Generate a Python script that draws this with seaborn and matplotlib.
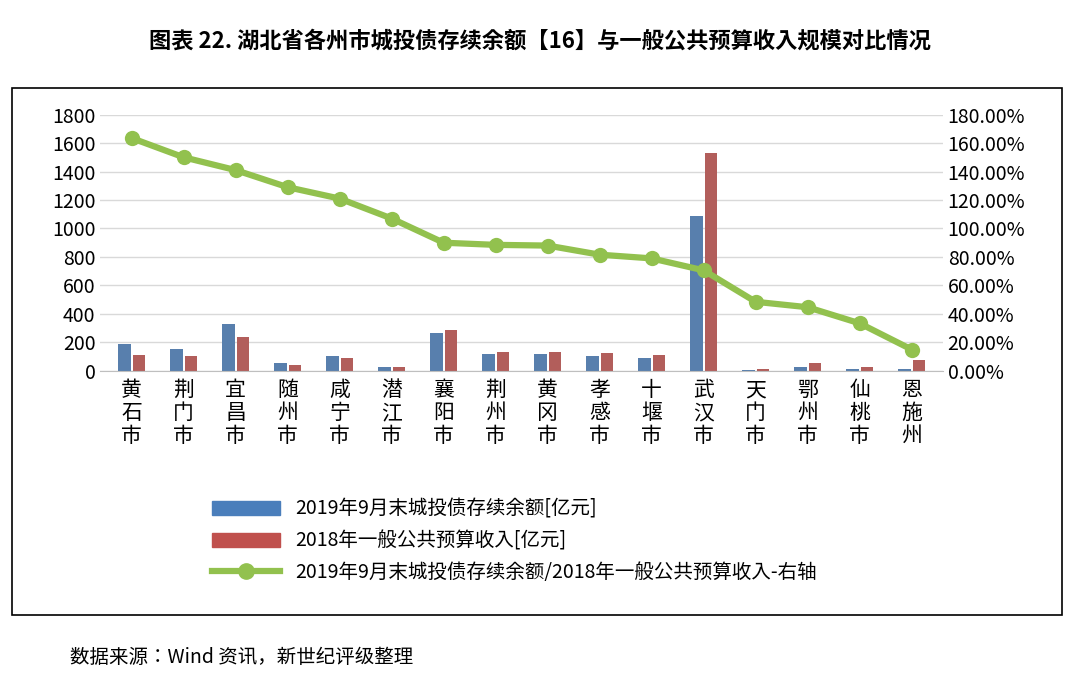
import matplotlib
matplotlib.use("Agg")
import matplotlib.pyplot as plt
from matplotlib import font_manager as fm
import seaborn as sns
import numpy as np
import pandas as pd
from matplotlib.ticker import FuncFormatter
from matplotlib.patches import Rectangle
from matplotlib.lines import Line2D

cjk = [f.name for f in fm.fontManager.ttflist if "CJK" in f.name]
pref = [n for n in ["Noto Sans CJK SC", "Noto Sans CJK JP", "Noto Sans CJK TC", "Noto Sans CJK KR"] if n in cjk] or cjk
plt.rcParams["font.family"] = "sans-serif"
plt.rcParams["font.sans-serif"] = pref[:1] + ["DejaVu Sans"]

cities = ["黄石市","荆门市","宜昌市","随州市","咸宁市","潜江市","襄阳市","荆州市","黄冈市","孝感市","十堰市","武汉市","天门市","鄂州市","仙桃市","恩施州"]
debt = [188,153,329,56,104,24,266,118,118,101,87,1087,3,24,10,10]
revenue = [111,101,235,42,87,24,289,129,134,127,108,1529,16,52,28,75]
ratio = [163.5,150,141,129,121,107,90,88.5,88,81.6,79,70.6,48.5,44.7,33.4,15]

s1 = "2019年9月末城投债存续余额[亿元]"
s2 = "2018年一般公共预算收入[亿元]"
s3 = "2019年9月末城投债存续余额/2018年一般公共预算收入-右轴"

df = pd.DataFrame({"city": cities*2, "value": debt+revenue, "series": [s1]*16+[s2]*16})

fig = plt.figure(figsize=(10.8, 6.78), dpi=100)
fig.patches.append(Rectangle((0.011, 0.093), 0.972, 0.777, transform=fig.transFigure, fill=False, edgecolor="black", lw=1.2))
ax = fig.add_axes([0.093, 0.453, 0.78, 0.378])
sns.barplot(data=df, x="city", y="value", hue="series", palette=["#4a7ebb", "#c0504d"], width=0.55, gap=0.15, ax=ax, legend=False)
ax.set_ylim(0, 1800)
ax.set_yticks(range(0, 1801, 200))
ax.grid(axis="y", color="#d9d9d9", lw=1)
ax.set_axisbelow(True)
for s in ["top", "right", "left"]:
    ax.spines[s].set_visible(False)
ax.spines["bottom"].set_color("#bfbfbf")
ax.set_xlabel(""); ax.set_ylabel("")
ax.set_xticks(range(16))
ax.set_xticklabels(["\n".join(c) for c in cities], fontsize=15, linespacing=1.05)
ax.tick_params(axis="x", length=0, pad=6)
ax.tick_params(axis="y", length=0, labelsize=14)
ax.set_xlim(-0.6, 15.6)

ax2 = ax.twinx()
sns.lineplot(x=np.arange(16), y=ratio, ax=ax2, color="#92c14e", lw=4.5, marker="o", markersize=11, markeredgewidth=0)
ax2.set_ylim(0, 180)
ax2.set_yticks(range(0, 181, 20))
ax2.yaxis.set_major_formatter(FuncFormatter(lambda v, p: f"{v:.2f}%"))
ax2.tick_params(axis="y", length=0, labelsize=14)
for s in ax2.spines.values():
    s.set_visible(False)

handles = [Rectangle((0,0),1,1,color="#4a7ebb"), Rectangle((0,0),1,1,color="#c0504d"),
           Line2D([], [], color="#92c14e", lw=4.5, marker="o", markersize=11)]
fig.legend(handles, [s1, s2, s3], loc="upper left", bbox_to_anchor=(0.18, 0.29), frameon=False,
           fontsize=14, handlelength=3.5, labelspacing=0.55)

fig.text(0.5, 0.94, "图表 22. 湖北省各州市城投债存续余额【16】与一般公共预算收入规模对比情况", ha="center", va="center", fontsize=16, fontweight="bold")
fig.text(0.065, 0.03, "数据来源：Wind 资讯，新世纪评级整理", ha="left", va="center", fontsize=14)
fig.savefig("out.png", dpi=100)
